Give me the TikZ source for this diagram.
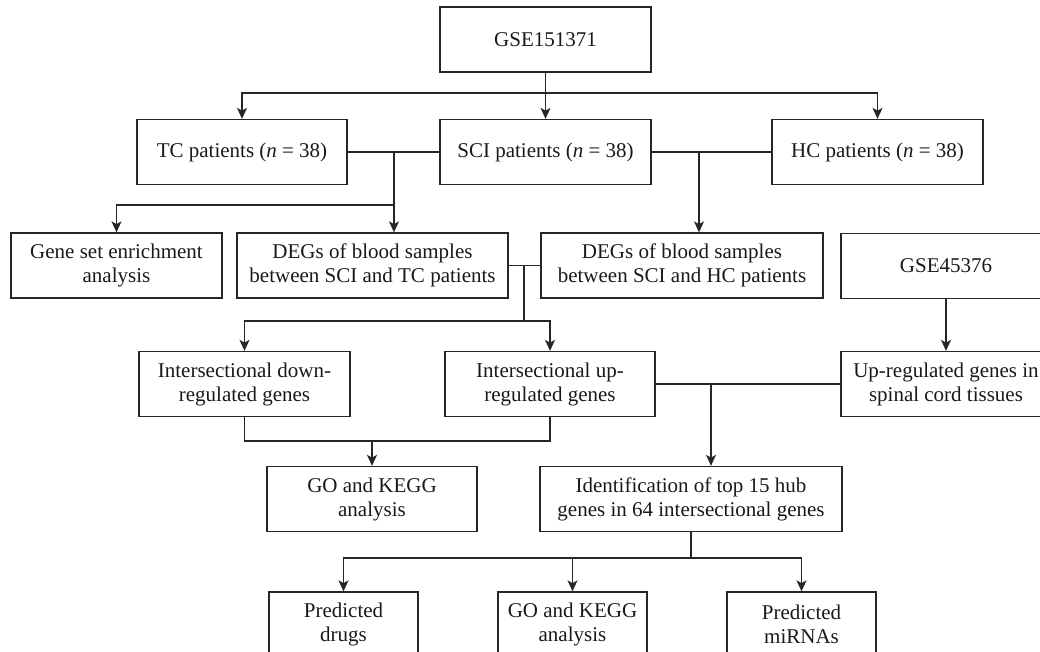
\documentclass[tikz,border=0pt]{standalone}
\usepackage{fontspec}
\setmainfont{Liberation Serif}
\usetikzlibrary{arrows.meta}

\begin{document}
\begin{tikzpicture}[x=0.5pt, y=-0.5pt,
        box/.style={draw=black!85, line width=0.65pt, align=center, inner sep=0pt,
            minimum height=32.5pt, font=\fontsize{10.5}{12}\selectfont, text=black!90},
        link/.style={draw=black!85, line width=0.65pt},
        arr/.style={link, -{Stealth[length=5.5pt, width=5pt, inset=1.4pt]}}]
        % Page frame
        \useasboundingbox (0,0) rectangle (1040,652);
        \clip (0,0) rectangle (1040,652);

        % Datasets and patient groups
        \node[box, minimum width=105.5pt] (gse1) at (545.5,39.5) {GSE151371};
        \node[box, minimum width=105pt] (tc) at (242,152) {TC patients (\textit{n} = 38)};
        \node[box, minimum width=105.5pt] (sci) at (545.5,152) {SCI patients (\textit{n} = 38)};
        \node[box, minimum width=105.5pt] (hc) at (877.5,152) {HC patients (\textit{n} = 38)};

        % Second row
        \node[box, minimum width=105.5pt] (gsea) at (116.5,265.5) {Gene set enrichment\\analysis};
        \node[box, minimum width=135.5pt] (degtc) at (372.5,265.5) {DEGs of blood samples\\between SCI and TC patients};
        \node[box, minimum width=141pt] (deghc) at (682,265.5) {DEGs of blood samples\\between SCI and HC patients};
        \node[box, minimum width=105pt] (gse2) at (946,266) {GSE45376};

        % Intersections
        \node[box, minimum width=105.5pt] (down) at (244.5,384) {Intersectional down-\\regulated genes};
        \node[box, minimum width=105pt] (up) at (550,384) {Intersectional up-\\regulated genes};
        \node[box, minimum width=105pt] (spinal) at (946,384) {Up-regulated genes in\\spinal cord tissues};

        % Enrichment and hub genes
        \node[box, minimum width=105pt] (gokegg) at (372,499) {GO and KEGG\\analysis};
        \node[box, minimum width=151pt] (hub) at (691,499) {Identification of top 15 hub\\genes in 64 intersectional genes};

        % Bottom row
        \node[box, minimum width=74.5pt] (drugs) at (343.5,624.5) {Predicted\\drugs};
        \node[box, minimum width=74.5pt] (gokeggb) at (572.5,624.5) {GO and KEGG\\analysis};
        \node[box, minimum width=74.5pt] (mirna) at (801.5,624.5) {Predicted\\miRNAs};

        % Junctions
        \coordinate (j1) at (545.5,93);
        \coordinate (j2) at (394,152);
        \coordinate (j3) at (394,205);
        \coordinate (j4) at (699,152);
        \coordinate (j5) at (524,266);
        \coordinate (j6) at (524,321);
        \coordinate (j7) at (711,384);
        \coordinate (j8) at (372,441);
        \coordinate (j9) at (691,558);

        % Connectors
        \draw[arr] (gse1) -- (sci);
        \draw[arr] (j1) -| (tc);
        \draw[arr] (j1) -| (hc);
        \draw[link] (tc) -- (sci);
        \draw[link] (sci) -- (hc);
        \draw[arr] (j2) -- (j2 |- degtc.north);
        \draw[arr] (j3) -| (gsea);
        \draw[arr] (j4) -- (j4 |- deghc.north);
        \draw[link] (degtc) -- (deghc);
        \draw[link] (j5) -- (j6);
        \draw[arr] (j6) -| (down);
        \draw[arr] (j6) -| (up);
        \draw[arr] (gse2) -- (spinal);
        \draw[link] (up) -- (spinal);
        \draw[arr] (j7) -- (j7 |- hub.north);
        \draw[link] (down.south) |- (j8) -| (up.south);
        \draw[arr] (j8) -- (gokegg);
        \draw[link] (hub) -- (j9);
        \draw[arr] (j9) -| (drugs);
        \draw[arr] (j9) -| (gokeggb);
        \draw[arr] (j9) -| (mirna);
\end{tikzpicture}
\end{document}
